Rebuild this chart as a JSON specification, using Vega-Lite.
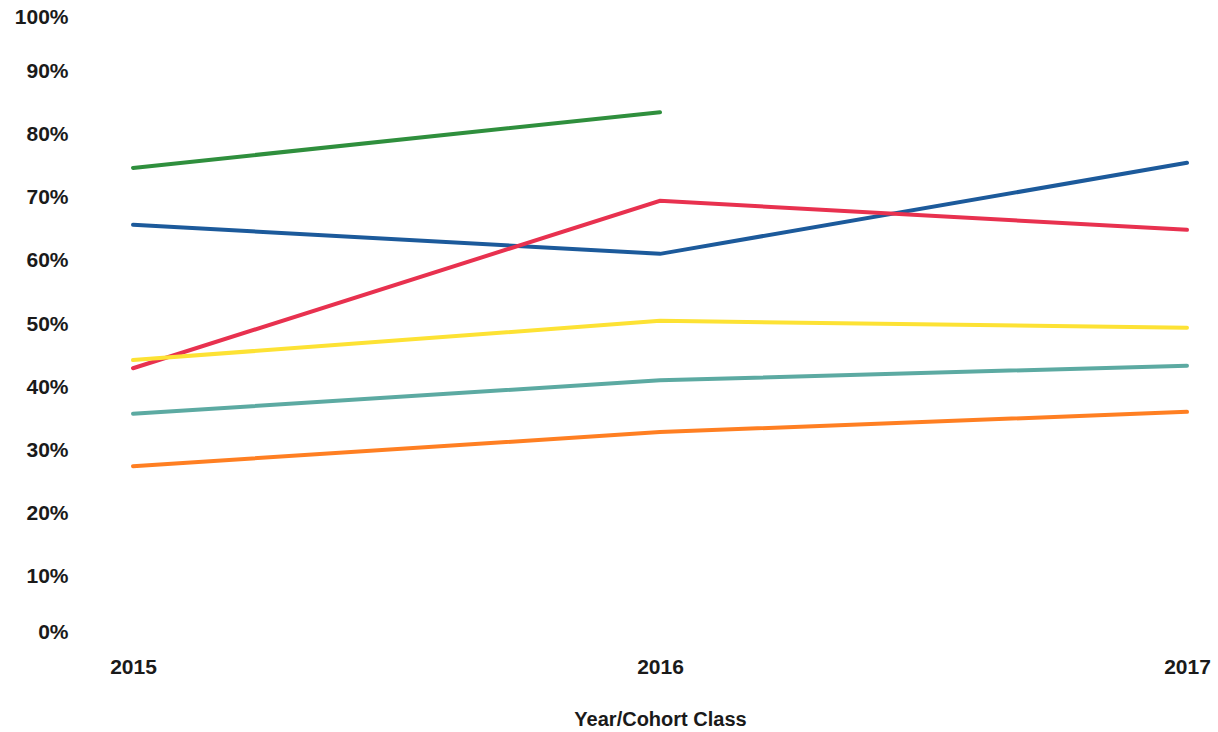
{
  "$schema": "https://vega.github.io/schema/vega-lite/v6.json",
  "width": 1054,
  "height": 632,
  "autosize": {"type": "none"},
  "padding": {"left": 133, "top": 8, "right": 31, "bottom": 92},
  "background": "white",
  "config": {
    "view": {"stroke": null},
    "axis": {"domain": false, "ticks": false, "grid": false, "labelFont": "Liberation Sans", "titleFont": "Liberation Sans", "labelColor": "#1a1a1a", "titleColor": "#1a1a1a"}
  },
  "data": {
    "values": [
      {"series": "A", "year": "2015", "value": 74.7},
      {"series": "A", "year": "2016", "value": 83.5},
      {"series": "B", "year": "2015", "value": 65.7},
      {"series": "B", "year": "2016", "value": 61.1},
      {"series": "B", "year": "2017", "value": 75.5},
      {"series": "C", "year": "2015", "value": 43.0},
      {"series": "C", "year": "2016", "value": 69.5},
      {"series": "C", "year": "2017", "value": 64.9},
      {"series": "D", "year": "2015", "value": 44.3},
      {"series": "D", "year": "2016", "value": 50.5},
      {"series": "D", "year": "2017", "value": 49.4},
      {"series": "E", "year": "2015", "value": 35.8},
      {"series": "E", "year": "2016", "value": 41.1},
      {"series": "E", "year": "2017", "value": 43.4},
      {"series": "F", "year": "2015", "value": 27.5},
      {"series": "F", "year": "2016", "value": 32.9},
      {"series": "F", "year": "2017", "value": 36.1}
    ]
  },
  "mark": {"type": "line", "strokeCap": "round"},
  "encoding": {
    "x": {
      "field": "year", "type": "ordinal",
      "scale": {"type": "point", "padding": 0},
      "axis": {"labelAngle": 0, "labelFontSize": 21, "labelFontWeight": "bold", "labelPadding": 16,
               "title": "Year/Cohort Class", "titleFontSize": 20, "titleFontWeight": "bold", "titlePadding": 32}
    },
    "y": {
      "field": "value", "type": "quantitative",
      "scale": {"domain": [0, 100], "nice": false},
      "axis": {"values": [0,10,20,30,40,50,60,70,80,90,100], "labelExpr": "datum.value + '%'",
               "labelFlush": true, "labelFlushOffset": 2,
               "labelFontSize": 21, "labelFontWeight": "bold", "labelPadding": 65, "title": null}
    },
    "color": {
      "field": "series", "type": "nominal",
      "scale": {"domain": ["A","B","C","D","E","F"], "range": ["#2f8f3d", "#1c5a9b", "#e8314f", "#fde234", "#5caaa2", "#ff7f22"]},
      "legend": null
    },
    "strokeWidth": {
      "field": "series", "type": "nominal",
      "scale": {"domain": ["A","B","C","D","E","F"], "range": [4, 4, 4, 3, 3.5, 3.5]},
      "legend": null
    }
  }
}
